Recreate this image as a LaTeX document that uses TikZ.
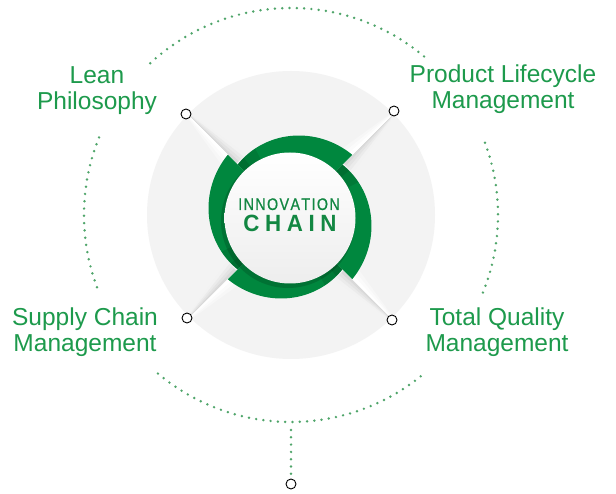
\documentclass[tikz,border=0pt]{standalone}
\usepackage{fontspec}
\setmainfont{Liberation Sans}
\newfontfamily\innofont[FakeStretch=0.85, FakeBold=0.8]{Liberation Sans}
\newfontfamily\chainfont[FakeStretch=0.95]{Liberation Sans}
\definecolor{textgreen}{HTML}{1D9A4C}
\definecolor{ringgreen}{HTML}{00873E}
\definecolor{ringdark}{HTML}{005E2A}
\definecolor{dotgreen}{HTML}{4FA56A}
\definecolor{bggray}{HTML}{F3F3F3}
\definecolor{innogreen}{HTML}{128742}
\tikzset{
  lbl/.style={text=textgreen, font=\fontsize{24.5}{26.5}\selectfont, align=center, inner sep=0pt},
  marker/.style={circle, draw=black, line width=0.9pt, fill=white, minimum size=10pt, inner sep=0pt},
  dots/.style={draw=dotgreen, line width=2.7pt, line cap=round, dash pattern=on 0pt off 7.3pt},
}
\begin{document}
\begin{tikzpicture}[x=1pt,y=-1pt]
\useasboundingbox (0,0) rectangle (616,494);
\fill[white] (0,0) rectangle (616,494);
% background disc
\fill[bggray] (291,215) circle[radius=144];
% spokes (creases)
\foreach \ang in {45,135,225,315} {
  \begin{scope}[shift={(290,217)}, rotate=\ang]
    \foreach \s/\c in {1/5, 0.75/8, 0.5/11, 0.25/15} {
      \fill[black!\c] (76,0) -- (147,0) -- (147,1.6*\s) -- (76,13*\s) -- cycle;
    }
    \foreach \s/\c in {1/3, 0.66/1.5, 0.33/0} {
      \fill[black!\c] (76,0) -- (147,0) -- (147,-1.6*\s) -- (76,-13*\s) -- cycle;
    }
  \end{scope}
}
% pinwheel ring segments
\foreach \k in {0,1,2,3} {
  \pgfmathsetmacro\a{45+90*\k}
  \fill[ringgreen] plot[domain=0:90, samples=46, variable=\t]
    ({290+(88-14*\t/90)*cos(\a+\t)}, {217-(88-14*\t/90)*sin(\a+\t)}) -- (290,217) -- cycle;
  \fill[ringdark, opacity=0.3] plot[domain=72:90, samples=12, variable=\t]
    ({290+(88-14*\t/90)*cos(\a+\t)}, {217-(88-14*\t/90)*sin(\a+\t)}) -- (290,217) -- cycle;
  \fill[ringdark, opacity=0.4] plot[domain=83:90, samples=6, variable=\t]
    ({290+(88-14*\t/90)*cos(\a+\t)}, {217-(88-14*\t/90)*sin(\a+\t)}) -- (290,217) -- cycle;
}
% white centre with shadow
\fill[black, opacity=0.15] (288,221) circle[radius=67];
\shade[top color=white, bottom color=black!7] (290,218) circle[radius=65.5];
\node[font=\innofont\fontsize{16.8}{18}\selectfont, text=innogreen, inner sep=0pt, anchor=base] (inno) at (289,210)
  {I\kern1.4pt N\kern1.4pt N\kern1.4pt O\kern1.4pt V\kern1.4pt A\kern1.4pt T\kern1.4pt I\kern1.4pt O\kern1.4pt N};
\node[font=\chainfont\bfseries\fontsize{23.5}{25}\selectfont, text=innogreen, inner sep=0pt, anchor=base] (chain) at (290,232)
  {C\kern5.6pt H\kern5.6pt A\kern5.6pt I\kern5.6pt N};
% dotted outer circle arcs
\draw[dots] (291,215) ++(-50:207) arc[start angle=-50, end angle=-134, radius=207];
\draw[dots] (291,215) ++(-158:207) arc[start angle=-158, end angle=-202, radius=207];
\draw[dots] (291,215) ++(-230:207) arc[start angle=-230, end angle=-310, radius=207];
\draw[dots] (291,215) ++(22:207) arc[start angle=22, end angle=-22, radius=207];
% markers
\node[marker] (mUL) at (186,114) {};
\node[marker] (mUR) at (394,111) {};
\node[marker] (mLL) at (187,318) {};
\node[marker] (mLR) at (392,320) {};
\node[marker] (mB) at (291,484) {};
\coordinate (arcB) at (291,430);
\draw[dots] (arcB) -- (mB.north);
% labels (base = baseline of last line)
\node[lbl, anchor=base] (lean) at (97,110) {Lean\\Philosophy};
\node[lbl, anchor=base] (plm) at (503,109) {Product Lifecycle\\Management};
\node[lbl, anchor=base] (scm) at (85,352) {Supply Chain\\Management};
\node[lbl, anchor=base] (tqm) at (497,352) {Total Quality\\Management};
\end{tikzpicture}
\end{document}
